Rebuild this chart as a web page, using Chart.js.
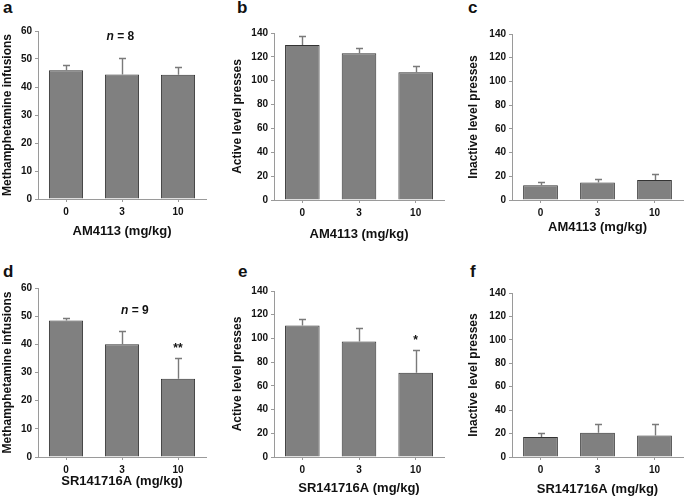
<!DOCTYPE html>
<html><head><meta charset="utf-8">
<script src="https://cdn.jsdelivr.net/npm/chart.js@4/dist/chart.umd.min.js"></script>
<style>
html,body{margin:0;padding:0;background:#fff}
body{width:685px;height:498px;position:relative;overflow:hidden;font-family:"Liberation Sans",Arial,sans-serif}
canvas{position:absolute}
.lbl{position:absolute;font-weight:bold;font-size:17px;line-height:16px;color:#111}
</style></head><body>
<div class="lbl" style="left:3px;top:0px">a</div>
<div class="lbl" style="left:237px;top:0px">b</div>
<div class="lbl" style="left:468px;top:0px">c</div>
<div class="lbl" style="left:3px;top:264px">d</div>
<div class="lbl" style="left:238px;top:264px">e</div>
<div class="lbl" style="left:470px;top:264px">f</div>
<canvas id="ca" width="225" height="250" style="left:0;top:0"></canvas>
<canvas id="cb" width="230" height="250" style="left:225px;top:0"></canvas>
<canvas id="cc" width="230" height="250" style="left:455px;top:0"></canvas>
<canvas id="cd" width="225" height="248" style="left:0;top:250px"></canvas>
<canvas id="ce" width="230" height="248" style="left:225px;top:250px"></canvas>
<canvas id="cf" width="230" height="248" style="left:455px;top:250px"></canvas>
<script>
// ---- data ----
const doseLabels = ['0', '3', '10'];
const infusionTicks = [0, 10, 20, 30, 40, 50, 60];
const pressTicks = [0, 20, 40, 60, 80, 100, 120, 140];

// AM4113 (top row)
const amInfusions = [46.0, 44.5, 44.4];
const amInfusionsSem = [2.0, 5.7, 2.9];
const amActive = [130.0, 123.0, 107.0];
const amActiveSem = [7.5, 4.5, 5.5];
const amInactive = [12.5, 14.7, 16.8];
const amInactiveSem = [2.8, 3.4, 5.0];

// SR141716A (bottom row)
const srInfusions = [48.5, 40.0, 27.8];
const srInfusionsSem = [1.0, 4.6, 7.2];
const srActive = [111.0, 97.5, 71.0];
const srActiveSem = [5.5, 11.5, 19.0];
const srInactive = [17.0, 20.8, 18.3];
const srInactiveSem = [3.5, 7.7, 9.6];

// ---- plugins ----
const errorBars = {
  id: 'errorBars',
  afterDatasetsDraw(chart, args, opts) {
    const {ctx, scales: {x, y}} = chart;
    const vals = chart.data.datasets[0].data;
    ctx.save();
    ctx.strokeStyle = '#7a7a7a';
    ctx.lineWidth = 1.4;
    vals.forEach((v, i) => {
      const px = Math.round(x.getPixelForValue(i)) + 0.5;
      const y0 = y.getPixelForValue(v);
      const y1 = Math.round(y.getPixelForValue(v + opts.err[i])) + 0.5;
      ctx.beginPath();
      ctx.moveTo(px, y0); ctx.lineTo(px, y1);
      ctx.moveTo(px - 3.5, y1); ctx.lineTo(px + 3.5, y1);
      ctx.stroke();
    });
    ctx.restore();
  }
};
const notes = {
  id: 'notes',
  afterDatasetsDraw(chart, args, opts) {
    if (!opts.items) return;
    const {ctx, scales: {x, y}} = chart;
    ctx.save();
    ctx.fillStyle = '#111';
    ctx.textBaseline = 'middle';
    opts.items.forEach(it => {
      const px = x.getPixelForValue(it.at);
      const py = y.getPixelForValue(it.value);
      let total = 0;
      it.parts.forEach(p => { ctx.font = p.font; total += ctx.measureText(p.text).width; });
      let cx = px - total / 2;
      ctx.textAlign = 'left';
      it.parts.forEach(p => { ctx.font = p.font; ctx.fillText(p.text, cx, py); cx += ctx.measureText(p.text).width; });
    });
    ctx.restore();
  }
};

const FAM = '"Liberation Sans", Arial, sans-serif';
const nParts = (n) => [
  {text: 'n', font: 'italic bold 12px ' + FAM},
  {text: ' = ' + n, font: 'bold 12px ' + FAM}
];
const starParts = (s) => [{text: s, font: 'bold 12px ' + FAM}];

function makeChart(id, vals, sem, ticks, yTitle, xTitle, L, items) {
  const axisColor = '#9a9a9a';
  new Chart(document.getElementById(id), {
    type: 'bar',
    data: {
      labels: doseLabels,
      datasets: [{
        data: vals,
        backgroundColor: '#808080',
        borderColor: '#333333',
        borderWidth: 1,
        barPercentage: 0.61,
        categoryPercentage: 1.0
      }]
    },
    options: {
      responsive: false,
      animation: false,
      devicePixelRatio: 1,
      layout: {padding: {top: L.top, right: L.right, left: 0, bottom: 0}},
      plugins: {
        legend: {display: false},
        tooltip: {enabled: false},
        errorBars: {err: sem},
        notes: {items: items}
      },
      scales: {
        x: {
          type: 'category',
          offset: true,
          grid: {display: true, drawOnChartArea: false, offset: false, drawTicks: true, tickLength: 3, color: axisColor},
          border: {display: true, color: axisColor, width: 1},
          ticks: {font: {family: FAM, size: 10, weight: 'bold'}, color: '#111', padding: 4, maxRotation: 0},
          title: {display: true, text: xTitle, font: {family: FAM, size: 13, weight: 'bold'}, color: '#111', padding: {top: 0, bottom: L.xt}},
          afterFit(s) { s.height = L.xh; }
        },
        y: {
          min: ticks[0],
          max: ticks[ticks.length - 1],
          ticks: {stepSize: ticks[1] - ticks[0], font: {family: FAM, size: 10, weight: 'bold'}, color: '#111', padding: 3},
          grid: {display: true, drawOnChartArea: false, drawTicks: true, tickLength: 3, color: axisColor},
          border: {display: true, color: axisColor, width: 1},
          title: {display: true, text: yTitle, font: {family: FAM, size: 12, weight: 'bold'}, color: '#111', padding: {top: L.yt, bottom: 0}},
          afterFit(s) { s.width = L.yw; }
        }
      }
    },
    plugins: [errorBars, notes]
  });
}

makeChart('ca', amInfusions, amInfusionsSem, infusionTicks, 'Methamphetamine infusions', 'AM4113 (mg/kg)',
  {top: 31, right: 19, xh: 51, yw: 38, xt: 10.3, yt: 0},
  [{at: 0.97, value: 57.9, parts: nParts(8)}]);
makeChart('cb', amActive, amActiveSem, pressTicks, 'Active level presses', 'AM4113 (mg/kg)',
  {top: 33, right: 11, xh: 50, yw: 49, xt: 7.3, yt: 5}, null);
makeChart('cc', amInactive, amInactiveSem, pressTicks, 'Inactive level presses', 'AM4113 (mg/kg)',
  {top: 34, right: 2, xh: 50, yw: 57, xt: 14.3, yt: 11}, null);
makeChart('cd', srInfusions, srInfusionsSem, infusionTicks, 'Methamphetamine infusions', 'SR141716A (mg/kg)',
  {top: 38, right: 19, xh: 41, yw: 38, xt: 8.3, yt: 0},
  [{at: 1.23, value: 52.0, parts: nParts(9)}, {at: 2, value: 38.4, parts: starParts('**')}]);
makeChart('ce', srActive, srActiveSem, pressTicks, 'Active level presses', 'SR141716A (mg/kg)',
  {top: 41, right: 11, xh: 41, yw: 49, xt: 1.3, yt: 5},
  [{at: 2, value: 97.8, parts: starParts('*')}]);
makeChart('cf', srInactive, srInactiveSem, pressTicks, 'Inactive level presses', 'SR141716A (mg/kg)',
  {top: 43, right: 2, xh: 41, yw: 57, xt: 1, yt: 11}, null);
</script>
</body></html>
